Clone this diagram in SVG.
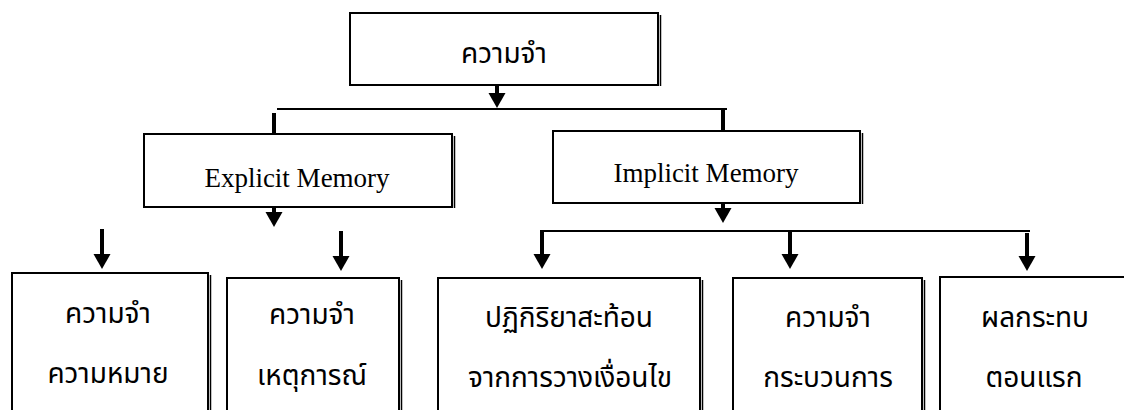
<svg xmlns="http://www.w3.org/2000/svg" xmlns:xlink="http://www.w3.org/1999/xlink" width="1124" height="410" viewBox="0 0 1124 410">
<defs>
<style>
.box{fill:#fff;stroke:#000;stroke-width:2}
.edge{stroke:#000;stroke-width:1.5;fill:none}
.en{font-family:"Liberation Serif","Times New Roman",serif;font-size:27px;fill:#000;text-anchor:middle}
.th{font-family:"Noto Sans Thai","Noto Serif Thai","Loma","Garuda","Norasi","Liberation Serif",serif;font-size:28px;fill:#000;text-anchor:middle}
.ln{stroke:#000;stroke-width:2;fill:none}
.stem{stroke:#000;stroke-width:4;fill:none}
</style>
<path id="head" d="M-8.5,-15 L8.5,-15 L0,0 Z" fill="#000"/>
</defs>
<rect width="1124" height="410" fill="#fff"/>

<g id="connectors">
<line class="stem" x1="497" y1="85" x2="497" y2="94"/>
<use xlink:href="#head" x="497" y="108"/>
<line class="ln" x1="277" y1="109" x2="727" y2="109"/>
<line class="stem" x1="274" y1="113" x2="274" y2="134"/>
<line class="stem" x1="723" y1="109" x2="723" y2="131"/>
<line class="stem" x1="274" y1="207" x2="274" y2="213"/>
<use xlink:href="#head" x="274" y="227"/>
<line class="stem" x1="102" y1="229" x2="102" y2="255"/>
<use xlink:href="#head" x="102" y="269"/>
<line class="stem" x1="341" y1="231" x2="341" y2="257"/>
<use xlink:href="#head" x="341" y="271"/>
<line class="stem" x1="723" y1="203" x2="723" y2="209"/>
<use xlink:href="#head" x="723" y="223"/>
<line class="ln" x1="541" y1="231" x2="1030" y2="231"/>
<line class="stem" x1="542" y1="230" x2="542" y2="255"/>
<use xlink:href="#head" x="542" y="269"/>
<line class="stem" x1="790" y1="231" x2="790" y2="255"/>
<use xlink:href="#head" x="790" y="269"/>
<line class="stem" x1="1027" y1="233" x2="1027" y2="257"/>
<use xlink:href="#head" x="1027" y="271"/>
</g>

<g id="root">
<rect class="box" x="350" y="13" width="308" height="72"/>
<line class="edge" x1="660.5" y1="15" x2="660.5" y2="86"/>
<text class="th" x="504" y="63">ความจำ</text>
</g>

<g id="explicit">
<rect class="box" x="144" y="134" width="308" height="73"/>
<line class="edge" x1="454.5" y1="136" x2="454.5" y2="208"/>
<text class="en" x="297" y="187">Explicit Memory</text>
</g>

<g id="implicit">
<rect class="box" x="553" y="131" width="307" height="72"/>
<line class="edge" x1="862.5" y1="133" x2="862.5" y2="204"/>
<text class="en" x="706" y="182">Implicit Memory</text>
</g>

<g id="semantic">
<rect class="box" x="12" y="273" width="196" height="150"/>
<line class="edge" x1="210.5" y1="275" x2="210.5" y2="420"/>
<text class="th" x="108" y="323">ความจำ</text>
<text class="th" x="108" y="383">ความหมาย</text>
</g>

<g id="episodic">
<rect class="box" x="227" y="278" width="172" height="150"/>
<line class="edge" x1="401.5" y1="280" x2="401.5" y2="420"/>
<text class="th" x="312" y="324">ความจำ</text>
<text class="th" x="312" y="385">เหตุการณ์</text>
</g>

<g id="conditioning">
<rect class="box" x="438" y="278" width="262" height="150"/>
<line class="edge" x1="702.5" y1="280" x2="702.5" y2="420"/>
<text class="th" x="569" y="327">ปฏิกิริยาสะท้อน</text>
<text class="th" x="570" y="387">จากการวางเงื่อนไข</text>
</g>

<g id="procedural">
<rect class="box" x="733" y="278" width="189" height="150"/>
<line class="edge" x1="924.5" y1="280" x2="924.5" y2="420"/>
<text class="th" x="828" y="327">ความจำ</text>
<text class="th" x="828" y="387">กระบวนการ</text>
</g>

<g id="priming">
<rect class="box" x="940" y="277" width="200" height="150"/>
<text class="th" x="1035" y="327">ผลกระทบ</text>
<text class="th" x="1034" y="387">ตอนแรก</text>
</g>
</svg>
